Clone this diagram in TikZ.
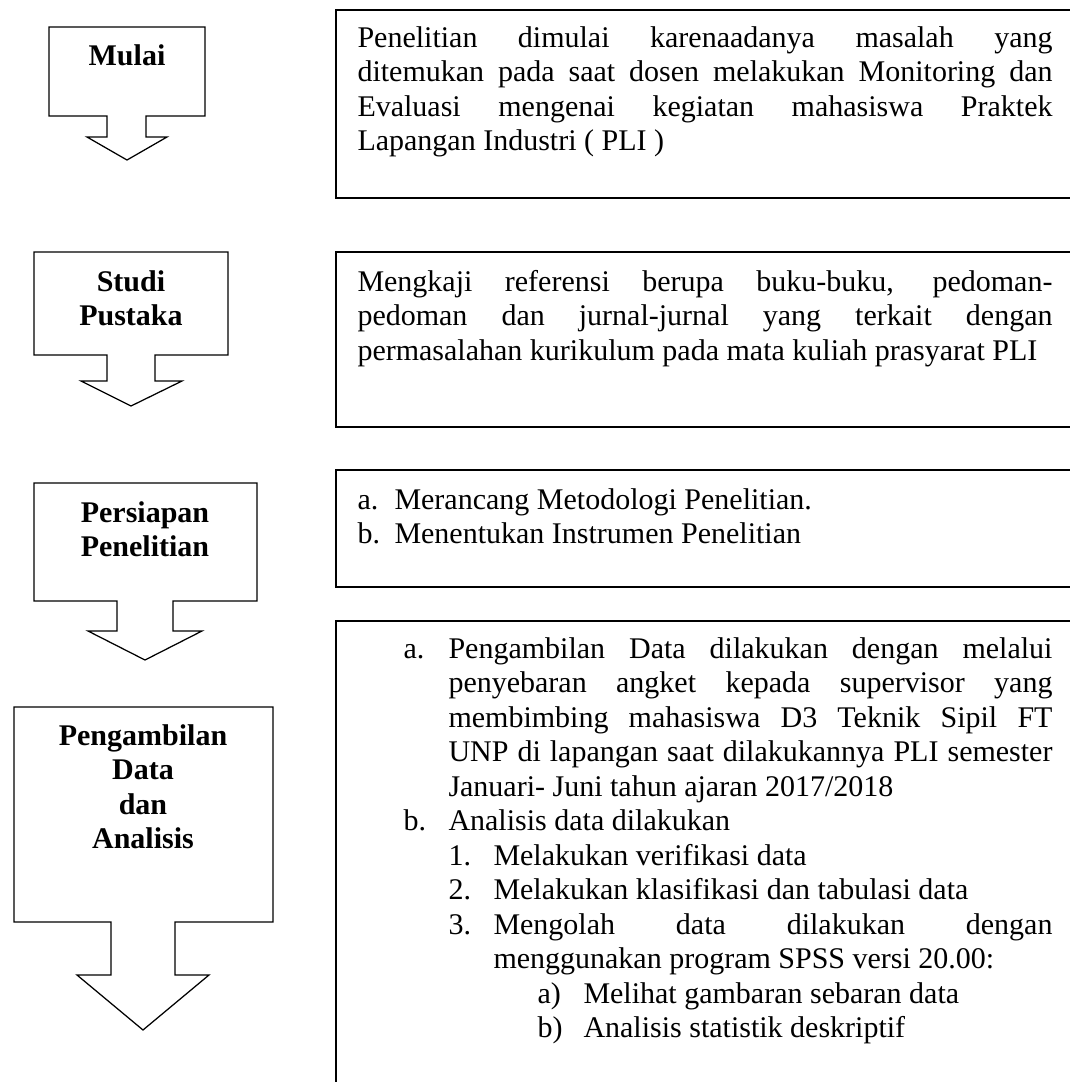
\documentclass[tikz,border=0pt]{standalone}
\usepackage{fontspec}
\setmainfont{Liberation Serif}
\tolerance=10000
\hbadness=10000
\begin{document}
\begin{tikzpicture}[x=0.4pt, y=-0.4pt,
    arrowbox/.style={draw, line width=0.5pt, line join=miter},
    textbox/.style={draw, line width=0.6pt},
    steplabel/.style={inner sep=0pt, anchor=base, text width=110pt, align=center,
        font=\fontsize{12}{13.8}\selectfont\bfseries},
    para/.style={inner sep=0pt, anchor=base west, text width=#1, align=justify,
        font=\fontsize{12}{13.8}\selectfont},
    itm/.style={inner sep=0pt, anchor=base west, font=\fontsize{12}{13.8}\selectfont}]
    \useasboundingbox (0,0) rectangle (1070,1082);
    \clip (0,0) rectangle (1070,1082);

    % block arrows on the left
    \draw[arrowbox] (49,27) -- (205,27) -- (205,116) -- (146,116) -- (146,137)
        -- (167,137) -- (127,160) -- (87,137) -- (107,137) -- (107,116) -- (49,116) -- cycle;
    \node[steplabel] (mulai) at (127,65) {Mulai};

    \draw[arrowbox] (34,252) -- (228,252) -- (228,355) -- (155,355) -- (155,381)
        -- (182,381) -- (131,406) -- (81,381) -- (107,381) -- (107,355) -- (34,355) -- cycle;
    \node[steplabel] (studi) at (131,291) {Studi\\Pustaka};

    \draw[arrowbox] (34,483) -- (257,483) -- (257,601) -- (173,601) -- (173,631)
        -- (202,631) -- (145,660) -- (88,631) -- (117,631) -- (117,601) -- (34,601) -- cycle;
    \node[steplabel] (persiapan) at (145,522) {Persiapan\\Penelitian};

    \draw[arrowbox] (14,707) -- (273,707) -- (273,922) -- (175,922) -- (175,975)
        -- (209,975) -- (143,1030) -- (77,975) -- (111,975) -- (111,922) -- (14,922) -- cycle;
    \node[steplabel] (pengambilan) at (143,745) {Pengambilan\\Data\\dan\\Analisis};

    % description boxes on the right
    \draw[textbox] (336,10) rectangle (1090,198);
    \node[para=278pt] (desc1) at (357,47) {Penelitian dimulai karenaadanya masalah yang\linebreak
        ditemukan pada saat dosen melakukan Monitoring dan\linebreak
        Evaluasi mengenai kegiatan mahasiswa Praktek\linebreak
        Lapangan Industri ( PLI )};

    \draw[textbox] (336,252) rectangle (1090,427);
    \node[para=278pt] (desc2) at (357,291) {Mengkaji referensi berupa buku-buku, pedoman-\linebreak
        pedoman dan jurnal-jurnal yang terkait dengan\linebreak
        \mbox{permasalahan kurikulum pada mata kuliah prasyarat PLI}};

    \draw[textbox] (336,470) rectangle (1090,587);
    \node[itm] (prepa) at (357,509) {a.};
    \node[itm] (prepatxt) at (394,509) {Merancang Metodologi Penelitian.};
    \node[itm] (prepb) at (357,543.5) {b.};
    \node[itm] (prepbtxt) at (394,543.5) {Menentukan Instrumen Penelitian};

    \draw[textbox] (336,621) rectangle (1090,1100);
    \node[itm] (dataa) at (403,658) {a.};
    \node[para=241.6pt] (dataatxt) at (448,658) {Pengambilan Data dilakukan dengan melalui\linebreak
        penyebaran angket kepada supervisor yang\linebreak
        membimbing mahasiswa D3 Teknik Sipil FT\linebreak
        UNP di lapangan saat dilakukannya PLI semester\linebreak
        Januari- Juni tahun ajaran 2017/2018};
    \node[itm] (datab) at (403,830.5) {b.};
    \node[itm] (databtxt) at (448,830.5) {Analisis data dilakukan};
    \node[itm] (step1) at (448,865) {1.};
    \node[itm] (step1txt) at (493,865) {Melakukan verifikasi data};
    \node[itm] (step2) at (448,899.5) {2.};
    \node[itm] (step2txt) at (493,899.5) {Melakukan klasifikasi dan tabulasi data};
    \node[itm] (step3) at (448,934) {3.};
    \node[para=223.6pt] (step3txt) at (493,934) {Mengolah data dilakukan dengan\linebreak
        menggunakan program SPSS versi 20.00:};
    \node[itm] (suba) at (537,1003) {a)};
    \node[itm] (subatxt) at (583,1003) {Melihat gambaran sebaran data};
    \node[itm] (subb) at (537,1037.5) {b)};
    \node[itm] (subbtxt) at (583,1037.5) {Analisis statistik deskriptif};
\end{tikzpicture}
\end{document}
